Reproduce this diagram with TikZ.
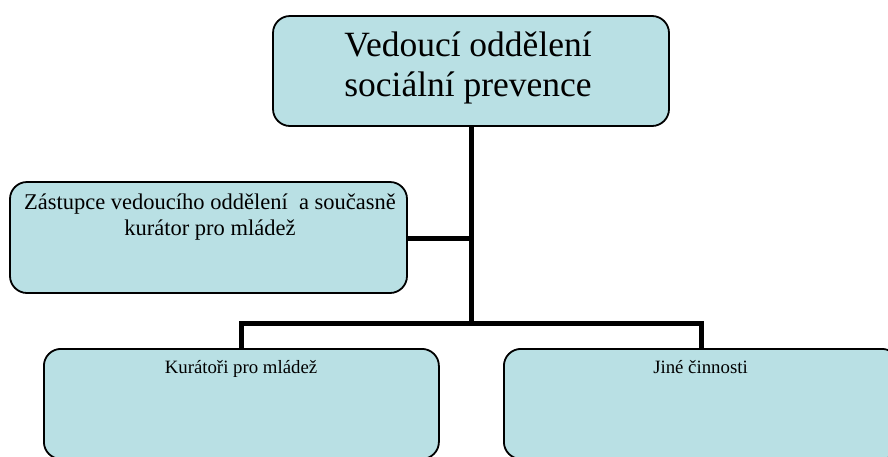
\documentclass[tikz,border=0pt]{standalone}
\usepackage{fontspec}
\setmainfont{Liberation Serif}
\definecolor{boxfill}{RGB}{185,224,228}
\begin{document}
\begin{tikzpicture}[x=1pt,y=-1pt,
  orgbox/.style={draw=black, line width=1.8pt, fill=boxfill, rounded corners=17pt, inner sep=0pt},
  conn/.style={draw=black, line width=5pt},
  lbl/.style={inner sep=0pt, align=center, anchor=base}]
\useasboundingbox (0,0) rectangle (888,456);
\clip (0,0) rectangle (888,456);
% connectors (behind boxes)
\coordinate (topS) at (471,126);
\coordinate (depE) at (407,238);
\coordinate (junc) at (topS |- depE);
\coordinate (bus) at (topS |- 0,323);
\coordinate (kurN) at (241,348);
\coordinate (jinN) at (701,348);
\draw[conn] (topS) -- (bus);
\draw[conn] (depE) -- (junc);
\draw[conn] (kurN) -- (kurN |- bus) -- (jinN |- bus) -- (jinN);
% boxes
\node[orgbox, minimum width=396pt, minimum height=110pt] (top) at (471,71) {};
\node[orgbox, minimum width=397pt, minimum height=111pt] (dep) at (208.5,237.5) {};
\node[orgbox, minimum width=395pt, minimum height=110pt, anchor=north west] (kur) at (43,348) {};
\node[orgbox, minimum width=395pt, minimum height=110pt, anchor=north west] (jin) at (503,348) {};
% texts
\node[lbl, font=\fontsize{35.5}{40}\selectfont] (toptxt) at (468,96) {Vedoucí oddělení\\sociální prevence};
\node[lbl, font=\fontsize{22.5}{26}\selectfont] (deptxt) at (210,235.5) {Zástupce vedoucího oddělení \ a současně\\kurátor pro mládež};
\node[lbl, font=\fontsize{18.8}{22}\selectfont] (kurtxt) at (241,373) {Kurátoři pro mládež};
\node[lbl, font=\fontsize{18.8}{22}\selectfont] (jintxt) at (700.5,373) {Jiné činnosti};
\end{tikzpicture}
\end{document}
